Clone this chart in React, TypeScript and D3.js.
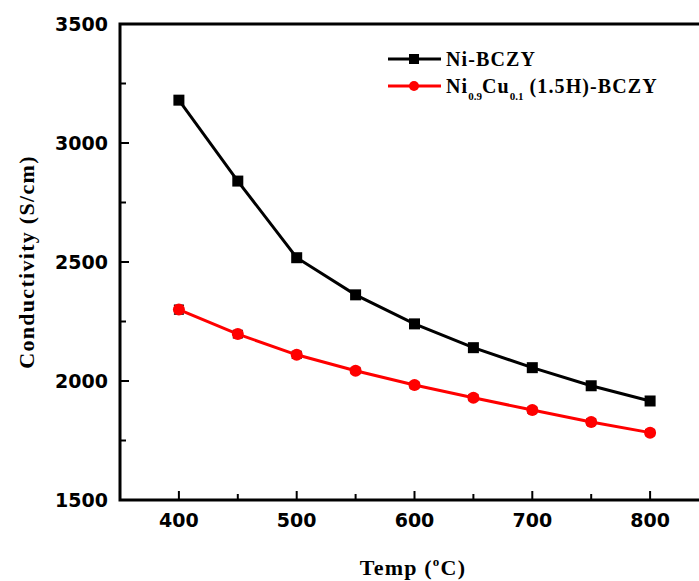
import * as d3 from "d3";
import { useEffect, useRef } from "react";

// data
const temps = [400, 450, 500, 550, 600, 650, 700, 750, 800];
const niBczy = [3180, 2840, 2518, 2362, 2240, 2140, 2056, 1980, 1916];
const niCuBczy = [2300, 2197, 2110, 2043, 1983, 1930, 1878, 1828, 1783];
const niCuErr = [18, 15, 14, 12, 12, 12, 12, 12, 12];
const xMajor = [400, 500, 600, 700, 800];
const xMinor = [450, 550, 650, 750];
const yMajor = [1500, 2000, 2500, 3000, 3500];
const yMinor = [1750, 2250, 2750, 3250];

export default function App() {
  const ref = useRef<SVGSVGElement>(null);

  useEffect(() => {
    const svg = d3.select(ref.current);
    svg.selectAll("*").remove();

    const left = 120, top = 24, bottom = 500;
    const x = d3.scaleLinear().domain([350, 850]).range([left, 709]);
    const y = d3.scaleLinear().domain([1500, 3500]).range([bottom, top]);

    const tickFont = "'DejaVu Sans', Verdana, sans-serif";
    const serif = "'Liberation Serif', 'Times New Roman', serif";

    // frame
    svg.append("path")
      .attr("d", `M${left},${top} H699 M${left},${top - 1.5} V${bottom + 1.5} M${left - 1.5},${bottom} H699`)
      .attr("stroke", "#000").attr("stroke-width", 3).attr("fill", "none");

    // x ticks
    svg.selectAll(".xmaj").data(xMajor).enter().append("line")
      .attr("x1", d => x(d)).attr("x2", d => x(d))
      .attr("y1", bottom).attr("y2", bottom - 9)
      .attr("stroke", "#000").attr("stroke-width", 2);
    svg.selectAll(".xmin").data(xMinor).enter().append("line")
      .attr("x1", d => x(d)).attr("x2", d => x(d))
      .attr("y1", bottom).attr("y2", bottom - 6)
      .attr("stroke", "#000").attr("stroke-width", 2);
    svg.selectAll(".xlab").data(xMajor).enter().append("text")
      .attr("x", d => x(d)).attr("y", 527)
      .attr("text-anchor", "middle")
      .attr("font-family", tickFont).attr("font-weight", "bold").attr("font-size", 19)
      .text(d => d);

    // y ticks
    svg.selectAll(".ymaj").data(yMajor).enter().append("line")
      .attr("x1", left).attr("x2", left + 9)
      .attr("y1", d => y(d)).attr("y2", d => y(d))
      .attr("stroke", "#000").attr("stroke-width", 2);
    svg.selectAll(".ymin").data(yMinor).enter().append("line")
      .attr("x1", left).attr("x2", left + 6)
      .attr("y1", d => y(d)).attr("y2", d => y(d))
      .attr("stroke", "#000").attr("stroke-width", 2);
    svg.selectAll(".ylab").data(yMajor).enter().append("text")
      .attr("x", 108).attr("y", d => y(d) + 7)
      .attr("text-anchor", "end")
      .attr("font-family", tickFont).attr("font-weight", "bold").attr("font-size", 19)
      .text(d => d);

    // axis titles
    const xt = svg.append("text")
      .attr("x", 413).attr("y", 575).attr("text-anchor", "middle")
      .attr("font-family", serif).attr("font-weight", "bold").attr("font-size", 22)
      .attr("letter-spacing", 1.2);
    xt.append("tspan").text("Temp (");
    xt.append("tspan").attr("dy", -9).attr("font-size", 13).text("o");
    xt.append("tspan").attr("dy", 9).text("C)");

    svg.append("text")
      .attr("transform", "translate(34,262) rotate(-90)")
      .attr("text-anchor", "middle")
      .attr("font-family", serif).attr("font-weight", "bold").attr("font-size", 22)
      .attr("letter-spacing", 1.3)
      .text("Conductivity (S/cm)");

    const line = d3.line<[number, number]>().x(d => x(d[0])).y(d => y(d[1]));

    // Ni-BCZY
    const blk = temps.map((t, i) => [t, niBczy[i]] as [number, number]);
    svg.append("path").attr("d", line(blk)!)
      .attr("fill", "none").attr("stroke", "#000").attr("stroke-width", 3);
    svg.selectAll(".sq").data(blk).enter().append("rect")
      .attr("x", d => x(d[0]) - 5.5).attr("y", d => y(d[1]) - 5.5)
      .attr("width", 11).attr("height", 11).attr("fill", "#000");

    // Ni0.9Cu0.1
    const red = temps.map((t, i) => [t, niCuBczy[i]] as [number, number]);
    svg.append("path").attr("d", line(red)!)
      .attr("fill", "none").attr("stroke", "#ff0000").attr("stroke-width", 3);
    const eb = svg.selectAll(".eb").data(red).enter().append("g");
    eb.append("path")
      .attr("d", (d, i) => {
        const cx = x(d[0]);
        const y1 = y(d[1] + niCuErr[i]);
        const y2 = y(d[1] - niCuErr[i]);
        return `M${cx - 5},${y1} H${cx + 5} M${cx},${y1} V${y2} M${cx - 5},${y2} H${cx + 5}`;
      })
      .attr("stroke", "#000").attr("stroke-width", 1.5).attr("fill", "none");
    eb.append("circle")
      .attr("cx", d => x(d[0])).attr("cy", d => y(d[1]))
      .attr("r", 6).attr("fill", "#ff0000");

    // legend
    const lg = svg.append("g");
    lg.append("line").attr("x1", 388).attr("x2", 441).attr("y1", 59).attr("y2", 59)
      .attr("stroke", "#000").attr("stroke-width", 3);
    lg.append("rect").attr("x", 409).attr("y", 54).attr("width", 10).attr("height", 10).attr("fill", "#000");
    lg.append("line").attr("x1", 388).attr("x2", 441).attr("y1", 86).attr("y2", 86)
      .attr("stroke", "#ff0000").attr("stroke-width", 3);
    lg.append("circle").attr("cx", 414).attr("cy", 86).attr("r", 5).attr("fill", "#ff0000");

    lg.append("text").attr("x", 446).attr("y", 66)
      .attr("font-family", serif).attr("font-weight", "bold").attr("font-size", 20)
      .attr("letter-spacing", 1.1)
      .text("Ni-BCZY");
    const t2 = lg.append("text").attr("x", 446).attr("y", 93)
      .attr("font-family", serif).attr("font-weight", "bold").attr("font-size", 20)
      .attr("letter-spacing", 1.1);
    t2.append("tspan").text("Ni");
    t2.append("tspan").attr("dy", 7).attr("font-size", 11).attr("letter-spacing", 0).text("0.9");
    t2.append("tspan").attr("dy", -7).text("Cu");
    t2.append("tspan").attr("dy", 7).attr("font-size", 11).attr("letter-spacing", 0).text("0.1");
    t2.append("tspan").attr("dy", -7).text(" (1.5H)-BCZY");
  }, []);

  return (
    <svg ref={ref} width={699} height={581}
      style={{ position: "absolute", left: 0, top: 0, background: "#fff" }} />
  );
}
